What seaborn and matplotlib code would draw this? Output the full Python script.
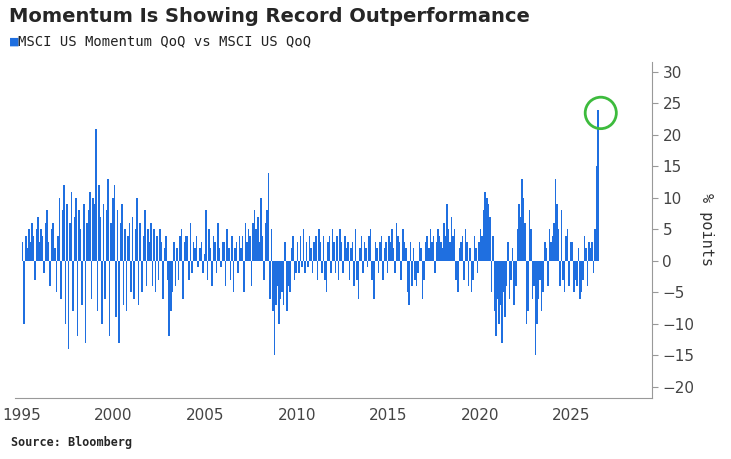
import numpy as np
import matplotlib
matplotlib.use("Agg")
import matplotlib.pyplot as plt
from matplotlib.patches import Ellipse
import seaborn as sns

# monthly spread, MSCI US Momentum QoQ minus MSCI US QoQ (% points)
start_year = 1995
spread = [
    3, -10, 4, 2, 5, 3, 6, 4, -3, 5, 7, 3,
    5, 4, -2, 6, 8, 3, -4, 5, 6, 2, -5, 4,
    10, -6, 8, 12, -10, 9, -14, 6, 11, -8, 7, 10,
    -12, 8, 5, -7, 9, -13, 6, 8, 11, -6, 10, 9,
    21, -8, 12, 7, -10, 9, -6, 8, 13, -12, 6, 10,
    12, -9, 8, -13, 6, 9, -7, 5, -8, 4, 6, -5,
    7, -6, 5, 10, -7, 6, -5, 4, 8, -4, 5, 3,
    6, -4, 5, -5, 4, -3, 5, 3, -6, 2, 4, -3,
    -12, -8, -5, 3, -4, 2, -3, 4, 5, -6, 3, 4,
    4, -3, 6, -2, 3, 2, 4, -1, 2, 3, -2, 1,
    8, -3, 5, 2, -4, 4, 3, -2, 6, 2, -1, 3,
    3, -4, 5, 2, -3, 4, -5, 2, 3, -2, 4, 2,
    4, -5, 6, 3, 5, 4, -4, 6, 8, 5, 7, 3,
    10, 4, -3, 6, 8, 14, -6, 5, -8, -15, -7, -4,
    -10, -6, -5, -7, 3, -8, -4, -5, 2, 4, -3, -2,
    3, -2, 4, -1, 5, -2, 3, -1, 4, 2, -2, 3,
    4, -3, 5, 3, -2, 4, -3, -5, 3, 4, -2, 5,
    3, -2, 4, -3, 5, 3, -2, 4, 2, 3, -3, 2,
    3, -4, 5, -3, -6, 2, 4, -2, 3, 2, -1, 4,
    5, -3, -6, 3, 2, -2, 3, 4, -3, 2, 3, -2,
    4, 3, 5, 2, -2, 6, 4, 3, -3, 5, 3, 2,
    -5, -7, 3, -4, 2, -3, -4, -2, 3, 2, -6, -3,
    3, 4, 2, 5, 3, 4, -2, 3, 5, 4, 3, 2,
    6, 4, 9, 5, 3, 7, 4, 5, -3, -5, 2, 3,
    4, -3, 5, 3, -4, 2, -5, -3, 4, 2, -2, 3,
    5, 4, 8, 11, 10, 9, 7, -5, 4, -8, -12, -6,
    -10, -7, -13, -5, -9, -4, 3, -6, -3, 2, -7, -4,
    5, 9, 7, 13, 10, 6, -10, -8, 8, 5, -6, -4,
    -15, -10, -6, -3, -8, -5, 3, 2, -4, 5, 3, 4,
    6, 13, 9, 5, -4, 8, -3, -5, 4, 5, -4, 3,
    3, -5, -3, -4, 2, -6, -5, -3, 4, 2, -4, 3,
    2, 3, -2, 5, 15, 24,
]
x_ticks = [1995, 2000, 2005, 2010, 2015, 2020, 2025]
y_ticks = [-20, -15, -10, -5, 0, 5, 10, 15, 20, 25, 30]

sns.set_style("white")
plt.rcParams["font.family"] = ["DejaVu Sans", "DejaVu Sans Mono"]

blue = "#1f6fe0"
t = start_year + np.arange(len(spread)) / 12

fig = plt.figure(figsize=(7.31, 4.59), dpi=100)
ax = fig.add_axes([0.02, 0.133, 0.872, 0.732])
ax.bar(t, spread, width=1 / 12, color=blue, linewidth=0, align="edge")

ax.set_xlim(1994.6, 2029.4)
ax.set_ylim(-21.8, 31.6)
ax.set_xticks(x_ticks)
ax.set_yticks(y_ticks)
ax.yaxis.tick_right()
ax.yaxis.set_label_position("right")
ax.set_ylabel("% points", rotation=270, labelpad=14, fontsize=11, color="#333333",
              family="DejaVu Sans Mono")
ax.tick_params(axis="both", labelsize=11, colors="#444444", length=4, color="#999999")
for s in ["top", "left"]:
    ax.spines[s].set_visible(False)
for s in ["bottom", "right"]:
    ax.spines[s].set_color("#999999")

ax.add_patch(Ellipse((2026.6, 23.5), 1.7, 5.0, fill=False, edgecolor="#3dbb3d", linewidth=2))

fig.text(0.012, 0.965, "Momentum Is Showing Record Outperformance", fontsize=14,
         fontweight="bold", va="center")
fig.text(0.012, 0.91, "\u25a0", color=blue, fontsize=8, va="center")
fig.text(0.025, 0.91, "MSCI US Momentum QoQ vs MSCI US QoQ", fontsize=10, va="center",
         color="#222222", family="DejaVu Sans Mono")
fig.text(0.015, 0.035, "Source: Bloomberg", fontsize=8.5, fontweight="bold", va="center",
         family="DejaVu Sans Mono")

fig.savefig("out.png", dpi=100)
